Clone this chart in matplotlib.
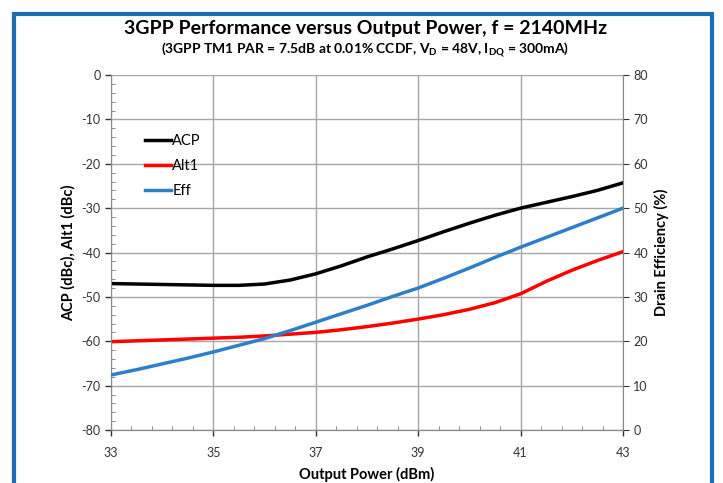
import matplotlib
matplotlib.use('Agg')
import matplotlib.pyplot as plt
from matplotlib.patches import Rectangle
from matplotlib.ticker import MultipleLocator

plt.rcParams['font.family'] = ['Lato', 'DejaVu Sans']
plt.rcParams['mathtext.fontset'] = 'custom'
plt.rcParams['mathtext.bf'] = 'Lato:bold'
plt.rcParams['mathtext.rm'] = 'Lato'
plt.rcParams['axes.unicode_minus'] = False

# Data
pout = [33, 33.5, 34, 34.5, 35, 35.5, 36, 36.5, 37, 37.5, 38, 38.5, 39, 39.5,
        40, 40.5, 41, 41.5, 42, 42.5, 43]
acp = [-47.0, -47.1, -47.2, -47.3, -47.4, -47.4, -47.1, -46.2, -44.8, -43.0,
       -41.0, -39.2, -37.3, -35.3, -33.4, -31.6, -30.0, -28.7, -27.4, -26.0, -24.3]
alt1 = [-60.1, -59.9, -59.7, -59.5, -59.3, -59.1, -58.8, -58.4, -58.0, -57.4,
        -56.7, -55.9, -55.0, -54.0, -52.8, -51.3, -49.3, -46.5, -44.0, -41.8, -39.8]
eff = [12.4, 13.6, 14.9, 16.2, 17.6, 19.1, 20.6, 22.4, 24.3, 26.2, 28.1, 30.1,
       32.0, 34.2, 36.5, 38.9, 41.2, 43.4, 45.6, 47.8, 50.0]
xticks = [33, 35, 37, 39, 41, 43]

fig = plt.figure(figsize=(7.23, 4.83), dpi=100)
ax = fig.add_axes([0.1535, 0.1097, 0.7082, 0.735])
ax2 = ax.twinx()

l1, = ax.plot(pout, acp, color='black', lw=2.5, label='ACP')
l2, = ax.plot(pout, alt1, color='#ff0000', lw=2.5, label='Alt1')
l3, = ax2.plot(pout, eff, color='#2f7fc8', lw=2.5, label='Eff')

ax.set_xlim(33, 43)
ax.set_ylim(-80, 0)
ax2.set_ylim(0, 80)
ax.set_xticks(xticks)
ax.xaxis.set_minor_locator(MultipleLocator(0.4, offset=0.2))
ax.yaxis.set_major_locator(MultipleLocator(10))
ax.yaxis.set_minor_locator(MultipleLocator(2))
ax2.yaxis.set_major_locator(MultipleLocator(10))

ax.grid(True, which='major', color='#a6a6a6', lw=1)
ax.tick_params(which='major', direction='out', length=4, labelsize=9, colors='#333333', width=1)
ax.tick_params(which='minor', direction='in', length=3, color='#777777')
ax2.tick_params(direction='out', length=4, labelsize=9, colors='#333333')
for a in (ax, ax2):
    for s in a.spines.values():
        s.set_color('#888888')
    a.spines['top'].set_visible(False)
ax.spines['right'].set_visible(False)
ax2.spines['left'].set_visible(False)
ax.tick_params(axis='x', which='major', pad=8)

ax.set_xlabel('Output Power (dBm)', fontsize=10.5, fontweight='bold', labelpad=6)
ax.set_ylabel('ACP (dBc), Alt1 (dBc)', fontsize=10.5, fontweight='bold')
ax2.set_ylabel('Drain Efficiency (%)', fontsize=10.5, fontweight='bold')

ax.legend(handles=[l1, l2, l3], loc='upper left', bbox_to_anchor=(0.04, 0.87),
          frameon=False, fontsize=10.5, handlelength=1.8, handletextpad=0.1,
          labelspacing=0.75)

fig.text(0.505, 0.942, '3GPP Performance versus Output Power, f = 2140MHz',
         ha='center', va='center', fontsize=14, fontweight='bold')
fig.text(0.505, 0.897,
         r'(3GPP TM1 PAR = 7.5dB at 0.01% CCDF, V$_\mathbf{D}$ = 48V, I$_\mathbf{DQ}$ = 300mA)',
         ha='center', va='center', fontsize=10, fontweight='bold')

fig.patches.append(Rectangle((14 / 723, -0.05), 698 / 723, 1 - 14 / 483 + 0.05,
                             transform=fig.transFigure, fill=False,
                             edgecolor='#1c6db5', lw=3))

fig.savefig('out.png', dpi=100)
